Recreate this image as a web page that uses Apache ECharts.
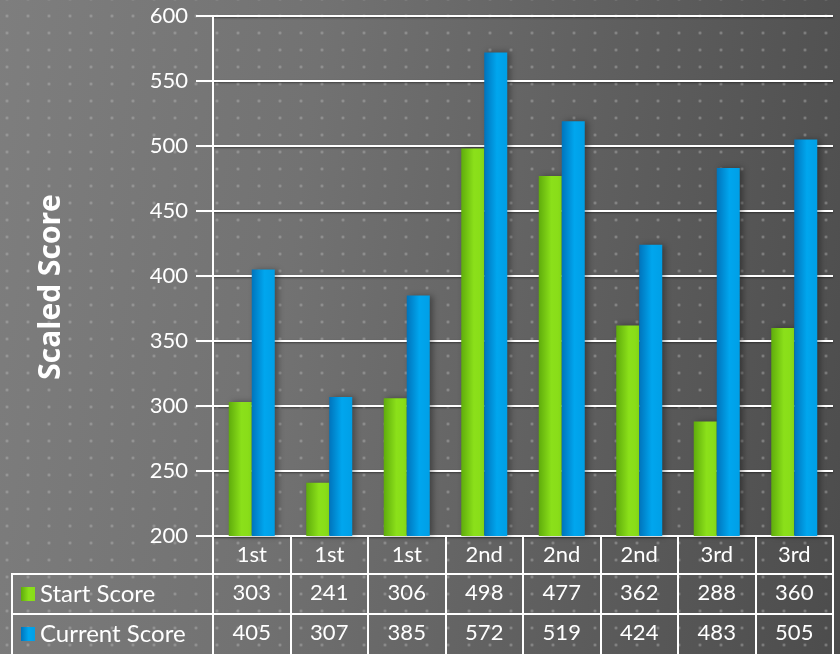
<!DOCTYPE html>
<html>
<head>
<meta charset="utf-8">
<script src="https://cdn.jsdelivr.net/npm/echarts@6/dist/echarts.min.js"></script>
<style>
html,body{margin:0;padding:0;}
#chart{
  width:840px;height:654px;
  background-image:
    radial-gradient(circle, rgba(190,190,190,0.5) 0.9px, rgba(190,190,190,0) 1.7px),
    linear-gradient(98deg, #7e7e7e 0%, #727272 35%, #606060 65%, #4c4c4c 100%);
  background-size:21px 17px, 100% 100%;
  background-position:-3.5px 7.5px, 0 0;
}
</style>
</head>
<body>
<div id="chart"></div>
<script>
var categories = ['1st','1st','1st','2nd','2nd','2nd','3rd','3rd'];
var startScore = [303,241,306,498,477,362,288,360];
var currentScore = [405,307,385,572,519,424,483,505];
var seriesNames = ['Start Score','Current Score'];
var yMin = 200, yMax = 600, yStep = 50;

var FONT = 'Lato';
var white = '#ffffff';
var chart = echarts.init(document.getElementById('chart'), null, {renderer:'canvas'});

function tableAxis(data, offset){
  return {
    type:'category', data:data, position:'bottom', offset:offset,
    axisLine:{show:true, lineStyle:{color:white, width:2}},
    axisTick:{show:true, interval:0, length:40, lineStyle:{color:white, width:2}},
    axisLabel:{color:white, fontSize:22, fontFamily:FONT, margin:8, interval:0},
    splitLine:{show:false}
  };
}
function legendFor(name, top){
  return {
    orient:'horizontal', left:21, top:top, itemWidth:14, itemHeight:14,
    icon:'rect', padding:0,
    textStyle:{color:white, fontSize:24, fontFamily:FONT},
    data:[name]
  };
}

var option = {
  backgroundColor:'transparent',
  animation:false,
  grid:{left:213, right:7, top:16, bottom:118, containLabel:false},
  legend:[ legendFor(seriesNames[0], 582), legendFor(seriesNames[1], 622) ],
  xAxis:[
    tableAxis(categories, 0),
    tableAxis(startScore.map(String), 38),
    tableAxis(currentScore.map(String), 78)
  ],
  yAxis:{
    type:'value', min:yMin, max:yMax, interval:yStep,
    name:'Scaled Score', nameLocation:'middle', nameGap:147,
    nameTextStyle:{color:white, fontSize:30, fontWeight:'bold', fontFamily:'Open Sans', padding:[0,22,0,0]},
    axisLine:{show:true, lineStyle:{color:white, width:2}},
    axisTick:{show:true, length:17, lineStyle:{color:white, width:2}},
    axisLabel:{color:white, fontSize:22, fontFamily:FONT, margin:25},
    splitLine:{show:true, lineStyle:{color:white, width:2, shadowBlur:2, shadowColor:'rgba(0,0,0,0.45)', shadowOffsetY:1}}
  },
  series:[
    {
      name:seriesNames[0], type:'bar', xAxisIndex:0, data:startScore,
      barWidth:23, barGap:'0%',
      itemStyle:{
        color:new echarts.graphic.LinearGradient(0,0,1,0,[
          {offset:0,color:'#5fac0c'},{offset:0.55,color:'#8be01a'},{offset:1,color:'#88dc18'}
        ]),
        shadowBlur:6, shadowColor:'rgba(0,0,0,0.35)', shadowOffsetX:3
      }
    },
    {
      name:seriesNames[1], type:'bar', xAxisIndex:0, data:currentScore,
      barWidth:23, barGap:'0%',
      itemStyle:{
        color:new echarts.graphic.LinearGradient(0,0,1,0,[
          {offset:0,color:'#0074bc'},{offset:0.55,color:'#00a6ee'},{offset:1,color:'#009fe6'}
        ]),
        shadowBlur:6, shadowColor:'rgba(0,0,0,0.35)', shadowOffsetX:3
      }
    }
  ],
  graphic:[
    {type:'polyline', shape:{points:[[213,574],[12,574],[12,654]]}, style:{stroke:white, lineWidth:2, fill:null}, silent:true},
    {type:'line', shape:{x1:12,y1:614,x2:213,y2:614}, style:{stroke:white, lineWidth:2}, silent:true}
  ]
};
chart.setOption(option);
</script>
</body>
</html>
